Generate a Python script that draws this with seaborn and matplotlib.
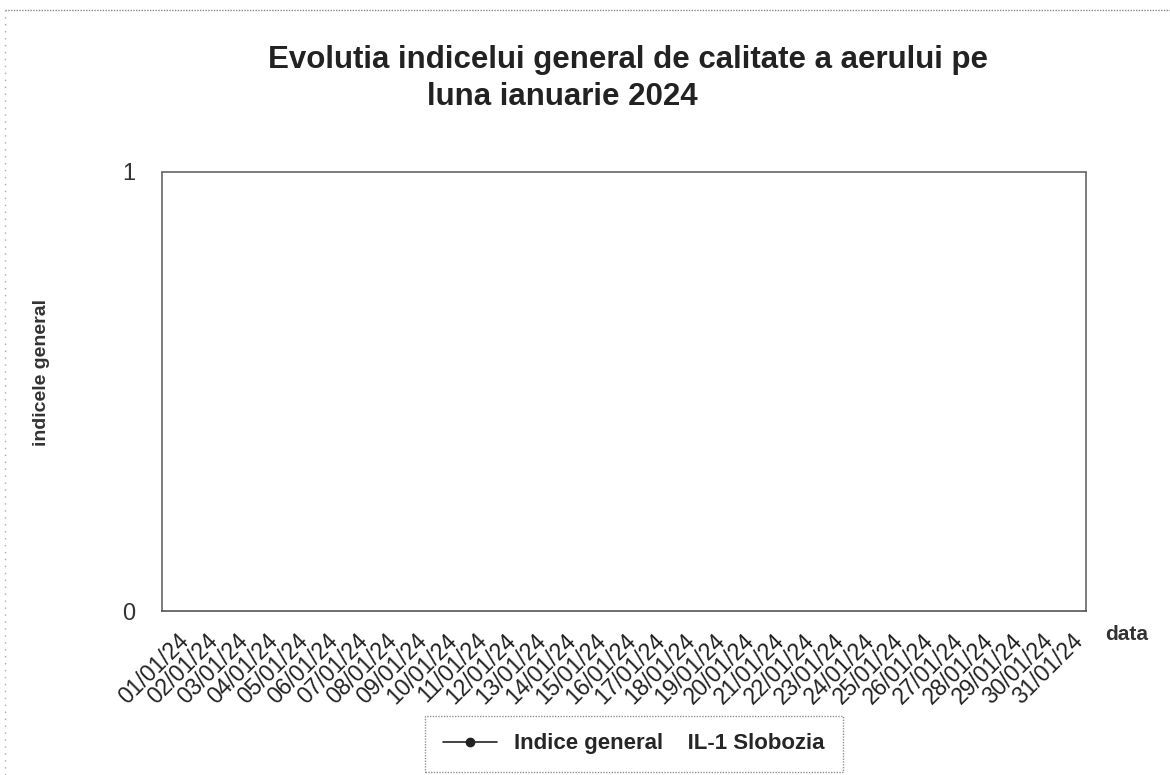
import numpy as np
import seaborn as sns
import matplotlib.pyplot as plt
from matplotlib.lines import Line2D

# Datele graficului: 31 de zile, fara valori masurate (indicele lipseste)
zile = ['%02d/01/24' % z for z in range(1, 32)]
indice_general = [np.nan] * 31
serie = 'Indice general    IL-1 Slobozia'
yticks = [0, 1]

sns.set_style('white')
plt.rcParams['font.family'] = ['Liberation Sans', 'DejaVu Sans']

fig = plt.figure(figsize=(11.7, 7.75), dpi=100)
W, H = 1170, 775
ax = fig.add_axes([162 / W, 1 - 611 / H, (1086 - 162) / W, (611 - 172) / H])

poz = list(range(len(zile)))
sns.lineplot(x=poz, y=indice_general, ax=ax, color='black', marker='o', legend=False)

ax.set_xlim(-0.5, len(zile) - 0.5)
ax.set_ylim(0, 1)
ax.set_yticks(yticks)
ax.set_yticklabels([str(v) for v in yticks], fontsize=17, color='#333333')
ax.tick_params(axis='y', length=0, pad=19)

ax.set_xticks(poz)
ax.set_xticklabels(zile, rotation=45, ha='right', rotation_mode='anchor',
                   fontsize=16.5, color='#222222')
ax.set_xticks([p + 0.5 for p in poz[:-1]], minor=True)
ax.tick_params(axis='x', which='major', length=0, pad=13)
ax.tick_params(axis='x', which='minor', length=5, width=0.8, color='#555555', direction='out')
ax.set_xlabel('')
ax.set_ylabel('')

for s in ax.spines.values():
    s.set_visible(True)
    s.set_color('#666666')
    s.set_linestyle((0, (1, 1)))
    s.set_linewidth(1.2)
ax.spines['bottom'].set_linestyle('-')
ax.spines['bottom'].set_color('#555555')

fig.text(628 / W, 1 - 60 / H, 'Evolutia indicelui general de calitate a aerului pe',
         ha='center', va='center', fontsize=22.5, fontweight='bold', color='#222222')
fig.text(427 / W, 1 - 97 / H, 'luna ianuarie 2024',
         ha='left', va='center', fontsize=22.5, fontweight='bold', color='#222222')
fig.text(42 / W, 1 - 372 / H, 'indicele general', rotation=90, ha='center', va='center',
         fontsize=14, fontweight='bold', color='#333333')
fig.text(1127 / W, 1 - 635 / H, 'data', ha='center', va='center',
         fontsize=15, fontweight='bold', color='#333333')

handle = Line2D([], [], color='#222222', marker='o', markersize=6, linewidth=1.2)
leg = fig.legend([handle], [serie], loc='center', bbox_to_anchor=(634 / W, 1 - 744 / H),
                 frameon=True, fancybox=False, handlelength=2.4, borderpad=0.8,
                 prop={'weight': 'bold', 'size': 16})
leg.get_frame().set_edgecolor('#777777')
leg.get_frame().set_linestyle((0, (1, 1)))
leg.get_frame().set_linewidth(1.0)

# chenarul punctat al zonei graficului (sus si stanga)
fig.add_artist(Line2D([5 / W, 1], [1 - 10 / H, 1 - 10 / H], color='#888888',
                      linestyle=(0, (1, 1)), linewidth=1.0))
fig.add_artist(Line2D([5 / W, 5 / W], [0, 1 - 10 / H], color='#aaaaaa',
                      linestyle=(0, (1, 4)), linewidth=1.0))

fig.savefig('out.png', dpi=100)
